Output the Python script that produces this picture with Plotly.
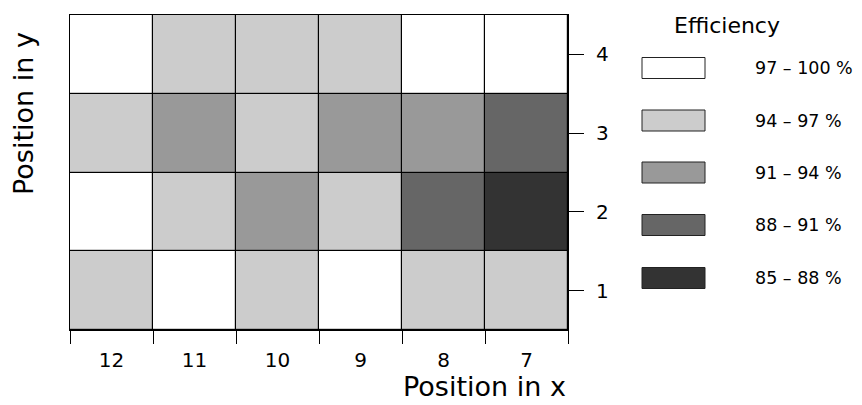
import plotly.graph_objects as go

# ---- data ----
x_labels = ["12", "11", "10", "9", "8", "7"]
y_positions = [1, 2, 3, 4]
# efficiency (%) per cell, bin mid-values, rows y=1..4, columns x=12..7
eff_y1 = [95.5, 98.5, 95.5, 98.5, 95.5, 95.5]
eff_y2 = [98.5, 95.5, 92.5, 95.5, 89.5, 86.5]
eff_y3 = [95.5, 92.5, 95.5, 92.5, 92.5, 89.5]
eff_y4 = [98.5, 95.5, 95.5, 95.5, 98.5, 98.5]

bin_edges = [85, 88, 91, 94, 97, 100]
bin_colors = ["#333333", "#666666", "#999999", "#cccccc", "#ffffff"]
legend_labels = ["97 \u2013 100 %", "94 \u2013 97 %", "91 \u2013 94 %", "88 \u2013 91 %", "85 \u2013 88 %"]
legend_colors = ["#ffffff", "#cccccc", "#999999", "#666666", "#333333"]

# ---- discrete colorscale ----
zmin, zmax = bin_edges[0], bin_edges[-1]
cs = []
for i, c in enumerate(bin_colors):
    lo = (bin_edges[i] - zmin) / (zmax - zmin)
    hi = (bin_edges[i + 1] - zmin) / (zmax - zmin)
    cs.append([lo, c])
    cs.append([hi, c])

W, H = 862, 405
L, R, T, B = 70, 568, 15, 330  # plot area in pixels

fig = go.Figure()
fig.add_trace(go.Heatmap(
    x=x_labels, y=y_positions,
    z=[eff_y1, eff_y2, eff_y3, eff_y4],
    zmin=zmin, zmax=zmax, colorscale=cs, showscale=False,
    xgap=1.2, ygap=1.2, hoverinfo="skip",
))

FONT = "DejaVu Sans"

def px2x(px):
    return (px - L) / (R - L)

def py2y(py):
    return (B - py) / (B - T)

shapes = []
annotations = []
# legend
box_x0, box_x1 = 642, 705
centers = [68, 120.5, 172.5, 225, 278]
for cy, col, lab in zip(centers, legend_colors, legend_labels):
    shapes.append(dict(type="rect", xref="paper", yref="paper",
                       x0=px2x(box_x0), x1=px2x(box_x1),
                       y0=py2y(cy + 10.5), y1=py2y(cy - 10.5),
                       fillcolor=col, line=dict(color="#222222", width=1)))
    annotations.append(dict(xref="paper", yref="paper", x=px2x(753), y=py2y(cy),
                            xanchor="left", yanchor="middle", showarrow=False,
                            text=lab, font=dict(family=FONT, size=17.5, color="black")))
annotations.append(dict(xref="paper", yref="paper", x=px2x(727), y=py2y(26),
                        xanchor="center", yanchor="middle", showarrow=False,
                        text="Efficiency", font=dict(family=FONT, size=22, color="black")))
# y axis title (left side)
annotations.append(dict(xref="paper", yref="paper", x=px2x(23), y=py2y(114),
                        xanchor="center", yanchor="middle", showarrow=False, textangle=-90,
                        text="Position in y", font=dict(family=FONT, size=27, color="black")))
# x axis title (right aligned)
annotations.append(dict(xref="paper", yref="paper", x=1.0, y=py2y(386),
                        xanchor="right", yanchor="middle", showarrow=False,
                        text="Position in x", font=dict(family=FONT, size=27, color="black")))

fig.update_layout(
    width=W, height=H,
    margin=dict(l=L, r=W - R, t=T, b=H - B, pad=0),
    paper_bgcolor="white", plot_bgcolor="black",
    showlegend=False,
    shapes=shapes, annotations=annotations,
    font=dict(family=FONT, color="black"),
    xaxis=dict(type="category", tickson="boundaries", ticks="outside", ticklen=13,
               tickwidth=1, tickcolor="black", showline=True, linecolor="black",
               linewidth=1, mirror=True, showgrid=False, zeroline=False,
               ticklabelstandoff=12,
               tickfont=dict(family=FONT, size=20, color="black"), fixedrange=True),
    yaxis=dict(side="right", range=[0.5, 4.5], tickvals=y_positions, ticks="outside",
               ticklen=15, tickwidth=1, tickcolor="black", showline=True,
               linecolor="black", linewidth=1, mirror=True, showgrid=False,
               zeroline=False, ticklabelstandoff=8,
               tickfont=dict(family=FONT, size=20, color="black"), fixedrange=True),
)

fig.write_html("out.html", config={"displayModeBar": False},
               post_script="document.body.style.margin='0';document.body.style.overflow='hidden';")
